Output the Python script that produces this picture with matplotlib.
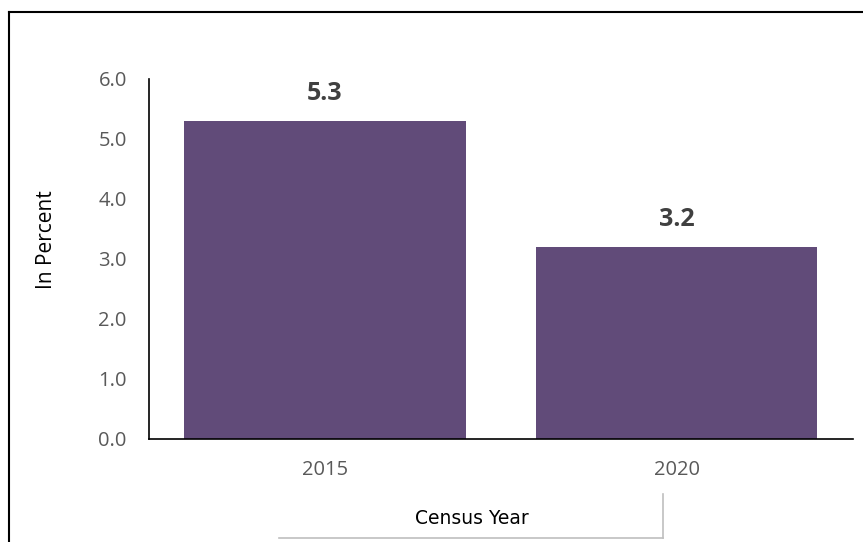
import matplotlib
matplotlib.use("Agg")
import matplotlib.pyplot as plt
from matplotlib.lines import Line2D

years = ["2015", "2020"]
values = [5.3, 3.2]
y_ticks = [0.0, 1.0, 2.0, 3.0, 4.0, 5.0, 6.0]

plt.rcParams['font.family'] = ['Open Sans', 'DejaVu Sans']

W, H = 863, 542
fig = plt.figure(figsize=(W / 100, H / 100), dpi=100)
ax = fig.add_axes([149 / W, (H - 439) / H, (852.5 - 149) / W, (439 - 79) / H])

x = list(range(len(years)))
bars = ax.bar(x, values, width=0.8, color='#614B79')
ax.set_xlim(-0.5, len(years) - 0.5)
ax.set_ylim(0, 6)
ax.set_xticks(x)
ax.set_xticklabels(years)
ax.set_yticks(y_ticks)
ax.set_yticklabels([f"{v:.1f}" for v in y_ticks])
ax.tick_params(axis='both', length=0, labelsize=14.5, colors='#595959')
ax.tick_params(axis='y', pad=16)
ax.tick_params(axis='x', pad=15)
for s in ['top', 'right']:
    ax.spines[s].set_visible(False)
for s in ['left', 'bottom']:
    ax.spines[s].set_color('black')
    ax.spines[s].set_linewidth(1.2)

for xi, v in zip(x, values):
    ax.annotate(f"{v:.1f}", (xi, v), xytext=(0, 11), textcoords='offset points',
                ha='center', va='bottom', fontsize=18, fontweight='bold', color='#404040')

fig.text(46 / W, 1 - 240 / H, "In Percent", rotation=90, ha='center', va='center',
         fontsize=15, color='black')

# census year label box
fig.text(472 / W, 1 - 518 / H, "Census Year", ha='center', va='center',
         fontsize=13.5, color='black', family=['DejaVu Sans'])
fig.add_artist(Line2D([279 / W, 663 / W], [1 - 538 / H, 1 - 538 / H], color='#BFBFBF', lw=1.2))
fig.add_artist(Line2D([663 / W, 663 / W], [1 - 494 / H, 1 - 538 / H], color='#BFBFBF', lw=1.2))

# outer chart border (top and left only visible)
fig.add_artist(Line2D([9 / W, 1.0], [1 - 12 / H, 1 - 12 / H], color='black', lw=1.5))
fig.add_artist(Line2D([9 / W, 9 / W], [1 - 12 / H, 0.0], color='black', lw=1.5))

fig.savefig("out.png", dpi=100)
